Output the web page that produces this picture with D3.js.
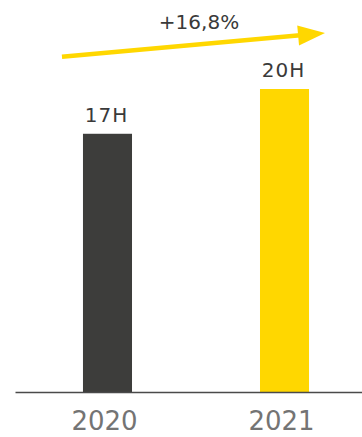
<!DOCTYPE html>
<html>
<head>
<meta charset="utf-8">
<script src="https://cdn.jsdelivr.net/npm/d3@7"></script>
<style>
  body { margin: 0; background: #fff; }
  text { font-family: "DejaVu Sans", sans-serif; }
</style>
</head>
<body>
<div class="chart"></div>
<script>
var svgWidth = 362;
var svgHeight = 437;

// data
var years = ["2020", "2021"];
var hours = [17.3, 20.3];
var valueLabels = ["17H", "20H"];
var growthLabel = "+16,8%";

var barColors = ["#3d3d3b", "#ffd700"];

var svg = d3.select(".chart")
  .append("svg")
  .attr("width", svgWidth)
  .attr("height", svgHeight);

var data = years.map(function(y, i) {
  return { year: y, value: hours[i], label: valueLabels[i], color: barColors[i] };
});

// scales
var xScale = d3.scaleBand()
  .domain(years)
  .range([15, 377])
  .paddingInner(0.723)
  .paddingOuter(0.384);

var yScale = d3.scaleLinear()
  .domain([0, d3.max(hours)])
  .range([392, 89]);

// bars
svg.selectAll(".bar")
  .data(data)
  .join("rect")
  .attr("class", "bar")
  .attr("x", d => xScale(d.year))
  .attr("y", d => yScale(d.value))
  .attr("width", xScale.bandwidth())
  .attr("height", d => yScale(0) - yScale(d.value))
  .attr("fill", d => d.color);

// value labels
svg.selectAll(".value")
  .data(data)
  .join("text")
  .attr("class", "value")
  .attr("x", d => xScale(d.year) + xScale.bandwidth() / 2 - 1)
  .attr("y", d => yScale(d.value) - 12)
  .attr("text-anchor", "middle")
  .attr("font-size", 20)
  .attr("letter-spacing", 1)
  .attr("fill", "#3a3a3a")
  .text(d => d.label);

// x axis
var bottomAxis = d3.axisBottom(xScale).tickSize(0).tickSizeOuter(0).tickPadding(20);

var axisG = svg.append("g")
  .attr("transform", `translate(-3, ${yScale(0)})`)
  .call(bottomAxis);

axisG.select(".domain")
  .attr("transform", "translate(3,0)")
  .attr("stroke", "#4a4a4a")
  .attr("stroke-width", 1.5);

axisG.selectAll(".tick text")
  .attr("font-family", "Open Sans, sans-serif")
  .attr("font-size", 26)
  .attr("fill", "#747474")
  .attr("dy", "0.71em");

// growth arrow
var x0 = xScale(years[0]) - 21;
var y0 = yScale(hours[0]) - 77;
var x1 = xScale(years[1]) + xScale.bandwidth() + 16;
var y1 = yScale(hours[1]) - 56;
var ang = Math.atan2(y1 - y0, x1 - x0);
var headLen = 27, headHalf = 10;
var bx = x1 - headLen * Math.cos(ang), by = y1 - headLen * Math.sin(ang);

svg.append("line")
  .attr("x1", x0).attr("y1", y0)
  .attr("x2", bx + 2 * Math.cos(ang)).attr("y2", by + 2 * Math.sin(ang))
  .attr("stroke", "#ffd700")
  .attr("stroke-width", 4.5);

svg.append("polygon")
  .attr("points", [
    [x1, y1],
    [bx - headHalf * Math.sin(ang), by + headHalf * Math.cos(ang)],
    [bx + headHalf * Math.sin(ang), by - headHalf * Math.cos(ang)]
  ].map(p => p.join(",")).join(" "))
  .attr("fill", "#ffd700");

svg.append("text")
  .attr("x", 199)
  .attr("y", 29)
  .attr("text-anchor", "middle")
  .attr("font-size", 20)
  .attr("fill", "#3a3a3a")
  .text(growthLabel);
</script>
</body>
</html>
